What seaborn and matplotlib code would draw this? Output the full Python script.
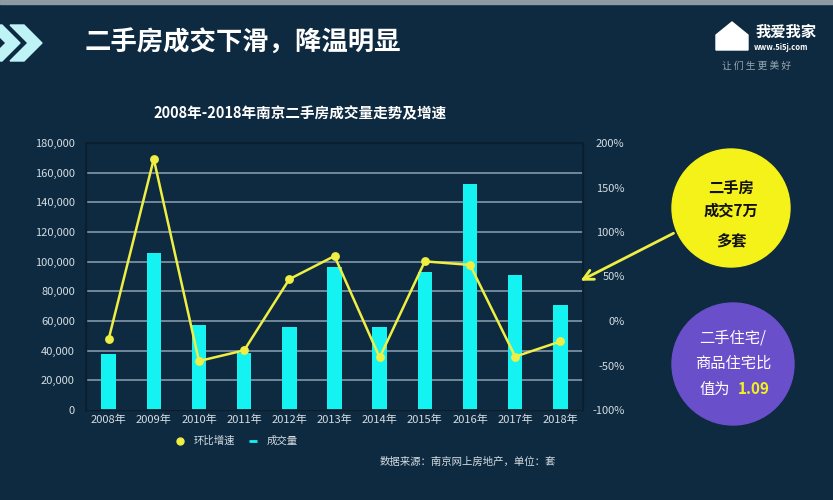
import matplotlib
matplotlib.use("Agg")
import matplotlib.pyplot as plt
import seaborn as sns
import pandas as pd
from matplotlib.patches import Circle, Polygon, Rectangle
from matplotlib.lines import Line2D

# chart data
years = ["2008年", "2009年", "2010年", "2011年", "2012年", "2013年",
         "2014年", "2015年", "2016年", "2017年", "2018年"]
volume = [37800, 105600, 57500, 38200, 56000, 96600, 56200, 93300, 152200, 90800, 71000]
growth = [-20.6, 182, -45, -33, 47, 73, -41, 67, 63, -40, -23]
left_ticks = [0, 20000, 40000, 60000, 80000, 100000, 120000, 140000, 160000, 180000]
right_ticks = [-100, -50, 0, 50, 100, 150, 200]

bg = "#0e2a40"
cyan = "#14f2f2"
yellow = "#eeee44"
grid_c = "#8aa2b2"
txt_c = "#d5dde2"

sns.set_theme(style="dark")
plt.rcParams["font.family"] = ["Noto Sans CJK SC", "DejaVu Sans"]
plt.rcParams["axes.unicode_minus"] = False

df = pd.DataFrame({"year": years, "volume": volume, "growth": growth})

fig = plt.figure(figsize=(8.33, 5), dpi=100, facecolor=bg)
ax = fig.add_axes([86 / 833, 90 / 500, 497 / 833, 267 / 500], facecolor=bg)

sns.barplot(data=df, x="year", y="volume", ax=ax, color=cyan, width=0.32,
            saturation=1, linewidth=0, zorder=3)
ax.set_ylim(0, 180000)
ax.set_xlim(-0.5, 10.5)
ax.set_yticks(left_ticks)
ax.set_yticklabels([f"{v:,}" for v in left_ticks])
ax.yaxis.grid(True, color=grid_c, linewidth=1.1, zorder=0)
ax.xaxis.grid(False)
ax.set_xlabel("")
ax.set_ylabel("")
ax.tick_params(axis="both", colors=txt_c, labelsize=8, length=0)
ax.tick_params(axis="y", pad=8)
for s in ax.spines.values():
    s.set_color("#0a1e2e")
    s.set_linewidth(1)

ax2 = ax.twinx()
sns.pointplot(data=df, x="year", y="growth", ax=ax2, color=yellow,
              markers="o", markersize=5, linewidth=1.8, zorder=4)
ax2.set_ylim(-100, 200)
ax2.set_xlim(-0.5, 10.5)
ax2.set_yticks(right_ticks)
ax2.set_yticklabels([f"{v}%" for v in right_ticks])
ax2.grid(False)
ax2.set_ylabel("")
ax2.tick_params(axis="y", colors=txt_c, labelsize=8, length=0, pad=30)
for lab in ax2.get_yticklabels():
    lab.set_ha("right")
for s in ax2.spines.values():
    s.set_color("#0a1e2e")

# chart title, legend, source
fig.text(300 / 833, 1 - 113 / 500, "2008年-2018年南京二手房成交量走势及增速",
         ha="center", va="center", color="white", fontsize=10.5, fontweight="bold")
handles = [Line2D([], [], color=yellow, marker="o", linestyle="", markersize=5),
           Line2D([], [], color=cyan, marker="_", linestyle="", markersize=6, markeredgewidth=2)]
fig.legend(handles, ["环比增速", "成交量"], loc="center", bbox_to_anchor=(236 / 833, 1 - 441 / 500),
           ncol=2, frameon=False, fontsize=7.5, labelcolor=txt_c, handletextpad=0.8,
           columnspacing=1.2, handlelength=1)
fig.text(556 / 833, 1 - 462 / 500, "数据来源：南京网上房地产，单位：套", ha="right",
         va="center", color=txt_c, fontsize=7.5)

# header and decorations in pixel coordinates
ov = fig.add_axes([0, 0, 1, 1], facecolor="none")
ov.set_xlim(0, 833)
ov.set_ylim(500, 0)
ov.axis("off")
ov.add_patch(Rectangle((0, 0), 833, 4, color="#8c9aa4"))
for x0 in (-12, 10):
    ov.add_patch(Polygon([(x0, 25), (x0 + 14, 25), (x0 + 32, 43), (x0 + 14, 61), (x0, 61),
                          (x0 + 18, 43)], closed=True, color="#bff4f6"))
fig.text(85 / 833, 1 - 43 / 500, "二手房成交下滑，降温明显", ha="left", va="center",
         color="white", fontsize=19, fontweight="bold")
fig.text(756 / 833, 1 - 32 / 500, "我爱我家", ha="left", va="center", color="white",
         fontsize=11, fontweight="bold")
fig.text(754 / 833, 1 - 48 / 500, "www.5i5j.com", ha="left", va="center", color="white",
         fontsize=5.5, fontweight="bold")
fig.text(722 / 833, 1 - 66 / 500, "让 们 生 更 美 好", ha="left", va="center", color="#9aa6ae",
         fontsize=7)
ov.add_patch(Polygon([(716, 50), (716, 35), (732, 22), (748, 35), (748, 50)], closed=True,
                     color="white"))

# callouts
ov.add_patch(Circle((731, 208), 59, color="#f5f21a", zorder=5))
ov.annotate("", xy=(578, 282), xytext=(676, 232),
            arrowprops=dict(arrowstyle="->", color=yellow, lw=2, mutation_scale=18))
for y, s in [(188, "二手房"), (211, "成交7万"), (241, "多套")]:
    ov.text(731, y, s, ha="center", va="center", color="#111111", fontsize=11,
            fontweight="bold", zorder=6)
ov.add_patch(Circle((733, 364), 61, color="#6a4fcb", zorder=5))
for y, s in [(338, "二手住宅/"), (363, "商品住宅比")]:
    ov.text(733, y, s, ha="center", va="center", color="white", fontsize=11, zorder=6)
ov.text(715, 389, "值为", ha="center", va="center", color="white", fontsize=11, zorder=6)
ov.text(754, 389, "1.09", ha="center", va="center", color="#f5f21a", fontsize=11,
        fontweight="bold", zorder=6)

fig.savefig("out.png", dpi=100, facecolor=bg)
